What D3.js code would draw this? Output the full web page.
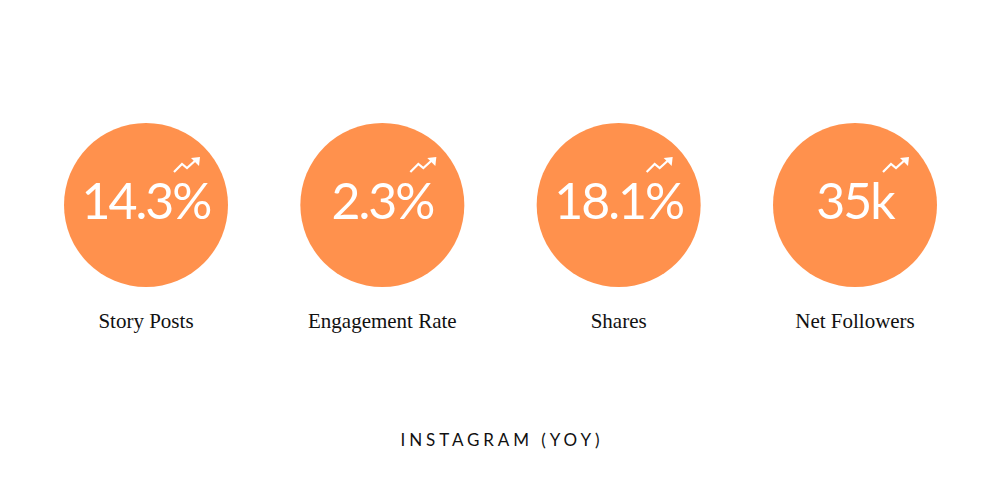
<!DOCTYPE html>
<html>
<head>
<meta charset="utf-8">
<script src="https://cdn.jsdelivr.net/npm/d3@7"></script>
<style>
  body { margin: 0; background: #fff; }
</style>
</head>
<body>
<script>
// metric cards, one circle each
const labels = ["Story Posts", "Engagement Rate", "Shares", "Net Followers"];
const values = ["14.3%", "2.3%", "18.1%", "35k"];
const title = "INSTAGRAM (YOY)";

const width = 1000, height = 500;

const svg = d3.select("body").append("svg")
    .attr("width", width)
    .attr("height", height);

const x = d3.scalePoint()
    .domain(labels)
    .range([146, 855]);

const r = 82, cy = 205;

const card = svg.selectAll(".card")
    .data(labels.map((d, i) => ({ label: d, value: values[i] })))
    .enter().append("g")
    .attr("class", "card")
    .attr("transform", d => `translate(${x(d.label)}, 0)`);

card.append("circle")
    .attr("cx", 0)
    .attr("cy", cy)
    .attr("r", r)
    .attr("fill", "#ff914d");

card.append("text")
    .attr("x", 0)
    .attr("y", cy + 14)
    .attr("text-anchor", "middle")
    .attr("fill", "#fff")
    .style("font-family", "Lato")
    .style("font-weight", 400)
    .style("font-size", "50px")
    .style("letter-spacing", "-2px")
    .text(d => d.value);

// little trend arrow, top right of the number
const arrow = card.append("g")
    .attr("transform", `translate(27, ${cy - 48})`);

arrow.append("path")
    .attr("d", "M1,15 L9,7 L14,11 L24,2")
    .attr("fill", "none")
    .attr("stroke", "#fff")
    .attr("stroke-width", 2.2)
    .attr("stroke-linejoin", "miter");

arrow.append("path")
    .attr("d", "M18,1 L27,0 L26,9 Z")
    .attr("fill", "#fff");

card.append("text")
    .attr("x", 0)
    .attr("y", 328)
    .attr("text-anchor", "middle")
    .attr("fill", "#111")
    .style("font-family", "Liberation Serif")
    .style("font-size", "21px")
    .text(d => d.label);

svg.append("text")
    .attr("x", width / 2 + 2)
    .attr("y", 446)
    .attr("text-anchor", "middle")
    .attr("fill", "#111")
    .style("font-family", "Lato")
    .style("font-size", "17px")
    .style("letter-spacing", "3.9px")
    .text(title);
</script>
</body>
</html>
